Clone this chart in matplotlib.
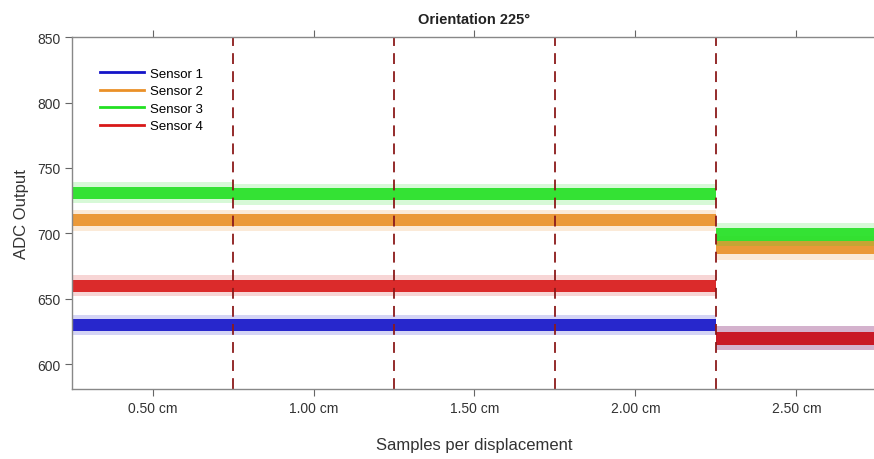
import matplotlib
matplotlib.use("Agg")
import matplotlib.pyplot as plt
import numpy as np

plt.rcParams['font.family'] = ['Liberation Sans', 'DejaVu Sans']

# Data: displacement windows (cm) and mean ADC level / noise half-width per window
window_edges = [0.25, 0.75, 1.25, 1.75, 2.25, 2.75]
sensors = ["Sensor 1", "Sensor 2", "Sensor 3", "Sensor 4"]
sensor1_level = [630, 630, 630, 630, 620]
sensor2_level = [710, 710, 710, 710, 689]
sensor3_level = [731, 730, 730, 730, 699]
sensor4_level = [660, 660, 660, 660, 620]
core_halfwidth = [4.5, 4.5, 4.5, 4.5, 5]
spike_halfwidth = [8, 8, 8, 8, 9]
boundaries = [0.75, 1.25, 1.75, 2.25]
xticks = [0.5, 1.0, 1.5, 2.0, 2.5]
xticklabels = ["0.50 cm", "1.00 cm", "1.50 cm", "2.00 cm", "2.50 cm"]
yticks = [600, 650, 700, 750, 800, 850]

colors = ["#1414c8", "#ea9028", "#22e022", "#d81818"]
levels = [sensor1_level, sensor2_level, sensor3_level, sensor4_level]

fig = plt.figure(figsize=(8.74, 4.6), dpi=100)
ax = fig.add_axes([0.0824, 0.152, 0.921, 0.765])

edges = np.array(window_edges)
for name, lev, c in zip(sensors, levels, colors):
    lev = np.array(lev, dtype=float)
    core = np.array(core_halfwidth, dtype=float)
    spike = np.array(spike_halfwidth, dtype=float)
    for i in range(len(lev)):
        xs = [edges[i], edges[i + 1]]
        ax.fill_between(xs, [lev[i] - spike[i]] * 2, [lev[i] + spike[i]] * 2,
                        color=c, alpha=0.18, linewidth=0)
        ax.fill_between(xs, [lev[i] - core[i]] * 2, [lev[i] + core[i]] * 2,
                        color=c, alpha=0.9, linewidth=0)
    ax.plot([], [], color=c, lw=2, label=name)

for b in boundaries:
    ax.axvline(b, color="#8b1a1a", lw=1.3, ls=(0, (6, 4)))

ax.set_xlim(0.25, 2.75)
ax.set_ylim(581, 850)
ax.set_xticks(xticks)
ax.set_xticklabels(xticklabels)
ax.set_yticks(yticks)
ax.tick_params(axis='both', direction='out', length=5, color="#666666",
               labelsize=10, labelcolor="#333333", top=True)
for s in ax.spines.values():
    s.set_color("#888888")
    s.set_linewidth(1.0)

ax.set_title("Orientation 225°", fontsize=10.5, fontweight='bold', pad=10, color="#222222")
ax.set_xlabel("Samples per displacement", fontsize=12, color="#333333", labelpad=16)
ax.set_ylabel("ADC Output", fontsize=12, color="#333333", labelpad=6)

leg = ax.legend(loc="upper left", bbox_to_anchor=(0.02, 0.947), frameon=False,
                fontsize=9.5, handlelength=3.3, handletextpad=0.5, labelspacing=0.4)

fig.savefig("out.png", dpi=100)
